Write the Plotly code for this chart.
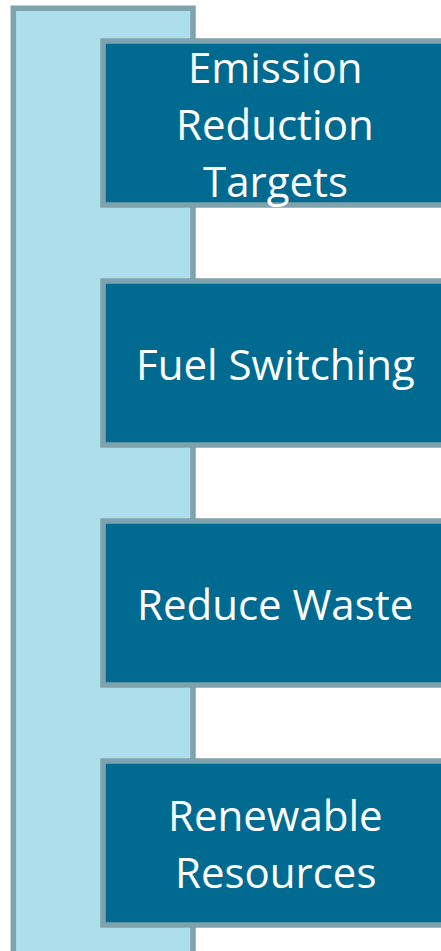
import plotly.graph_objects as go

labels = [
    ["Emission", "Reduction", "Targets"],
    ["Fuel Switching"],
    ["Reduce Waste"],
    ["Renewable", "Resources"],
]

W, H = 441, 951
DARK = "#006A90"
LIGHT = "#ADDEEC"
EDGE = "#7FA3AE"
LW = 5.5

fig = go.Figure()
shapes = []
annotations = []

# background spine
shapes.append(dict(type="rect", xref="x", yref="y", x0=13.3, x1=193, y0=8.3, y1=1000,
                   fillcolor=LIGHT, line=dict(color=EDGE, width=LW), layer="below"))

box_top0, step, box_h = 41, 240, 164
box_x0, box_x1 = 103, 447
line_gap = 57
for i, lines in enumerate(labels):
    y0 = box_top0 + i * step
    y1 = y0 + box_h
    shapes.append(dict(type="rect", xref="x", yref="y", x0=box_x0, x1=box_x1, y0=y0, y1=y1,
                       fillcolor=DARK, line=dict(color=EDGE, width=LW), layer="below"))
    cy = (y0 + y1) / 2
    n = len(lines)
    for j, t in enumerate(lines):
        yy = cy + (j - (n - 1) / 2) * line_gap
        annotations.append(dict(x=(box_x0 + box_x1) / 2, y=yy, xref="x", yref="y", text=t,
                                showarrow=False, xanchor="center", yanchor="middle",
                                font=dict(family="Open Sans", size=42, color="white")))

fig.update_layout(
    width=W, height=H,
    margin=dict(l=0, r=0, t=0, b=0),
    paper_bgcolor="white", plot_bgcolor="white",
    xaxis=dict(range=[0, W], visible=False, fixedrange=True),
    yaxis=dict(range=[H, 0], visible=False, fixedrange=True),
    shapes=shapes, annotations=annotations, showlegend=False,
)
fig.write_html("out.html", config={"displayModeBar": False},
               post_script="document.body.style.margin='0';document.body.style.overflow='hidden';")
